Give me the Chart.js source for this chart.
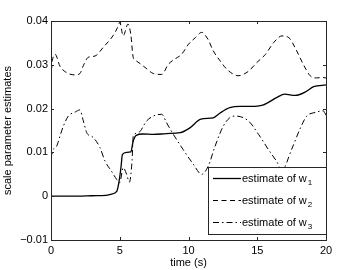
<!DOCTYPE html>
<html>
<head>
<meta charset="utf-8">
<script src="https://cdn.jsdelivr.net/npm/chart.js@4"></script>
<style>
  body { margin: 0; background: #fff; }
  #wrap { width: 360px; height: 270px; }
</style>
</head>
<body>
<div id="wrap"><canvas id="chart" width="360" height="270"></canvas></div>
<script>
// estimate of w1 (solid)
let t1 = [0, 1, 2, 3, 4, 4.4, 4.78, 4.95, 5.1, 5.19, 5.5, 5.8, 5.98, 6.2, 6.7, 7.44, 8.4, 9.4, 10.1, 10.9, 11.8, 12.3, 13.0, 13.75, 14.5, 15.4, 16.4, 17.0, 17.75, 18.5, 19.1, 20];
let w1 = [0, 0, 0, 0.0001, 0.0002, 0.0005, 0.0011, 0.0034, 0.0069, 0.0095, 0.0100, 0.0101, 0.0126, 0.0139, 0.0142, 0.0141, 0.0143, 0.0145, 0.0156, 0.0176, 0.0179, 0.0190, 0.0202, 0.0205, 0.0205, 0.0208, 0.0225, 0.0233, 0.0230, 0.0238, 0.0250, 0.0254];

// estimate of w2 (dashed)
let t2 = [0, 0.03, 0.1, 0.3, 0.65, 1.14, 1.75, 2.1, 2.35, 2.7, 3.2, 3.8, 4.5, 4.9, 5.0, 5.25, 5.6, 5.8, 5.98, 6.2, 6.84, 7.45, 8.05, 8.53, 9.0, 9.5, 10.0, 10.5, 10.96, 11.4, 11.8, 12.3, 12.78, 13.3, 13.6, 14.35, 14.96, 15.6, 16.2, 16.8, 17.3, 17.8, 18.4, 18.85, 19.3, 19.7, 20];
let w2 = [0.037, 0.029, 0.031, 0.0324, 0.0297, 0.0282, 0.0277, 0.0280, 0.0298, 0.0317, 0.0320, 0.0340, 0.0366, 0.0389, 0.0397, 0.0366, 0.0393, 0.0370, 0.0317, 0.0309, 0.0294, 0.0280, 0.0278, 0.0301, 0.0313, 0.0324, 0.0347, 0.0362, 0.0374, 0.0359, 0.0332, 0.0309, 0.0290, 0.0278, 0.0275, 0.0285, 0.0305, 0.0324, 0.0351, 0.0366, 0.0362, 0.0336, 0.0298, 0.0275, 0.0270, 0.0271, 0.0270];

// estimate of w3 (dash-dot)
let t3 = [0, 0.04, 0.17, 0.41, 0.65, 0.9, 1.26, 1.75, 2.1, 2.35, 2.6, 3.07, 3.56, 3.93, 4.4, 4.78, 5.0, 5.25, 5.5, 5.7, 5.9, 5.98, 6.35, 6.96, 7.44, 8.05, 8.4, 8.9, 9.6, 10.35, 10.96, 11.44, 11.93, 12.53, 13.0, 13.4, 14.35, 15.1, 15.8, 16.4, 16.8, 17.5, 18.1, 18.6, 19.2, 19.8, 20];
let w3 = [0.0165, 0.0095, 0.0107, 0.0114, 0.0137, 0.0160, 0.0183, 0.0192, 0.0197, 0.0172, 0.0145, 0.0134, 0.0111, 0.0080, 0.0057, 0.0038, 0.0031, 0.0065, 0.0050, 0.0032, 0.0084, 0.0137, 0.0145, 0.0172, 0.0183, 0.0187, 0.0168, 0.0141, 0.0107, 0.0073, 0.0050, 0.0069, 0.0114, 0.0160, 0.0179, 0.0183, 0.0172, 0.0141, 0.0107, 0.0080, 0.0060, 0.0107, 0.0153, 0.0183, 0.0191, 0.0195, 0.0185];

let legendNames = ["estimate of w", "estimate of w", "estimate of w"];
let legendSubs = ["1", "2", "3"];
let xTicks = [0, 5, 10, 15, 20];
let yTicks = [-0.01, 0, 0.01, 0.02, 0.03, 0.04];

const FONT = "Liberation Sans, Arial, Helvetica, sans-serif";
const dashes = [[], [5, 3.5], [6, 3, 1.5, 3]];

function pts(t, v) {
  return t.map((x, i) => ({ x: x, y: v[i] }));
}

// box, inward ticks and legend, like matlab axes
const axesBox = {
  id: "axesBox",
  afterDraw(chart) {
    let ctx = chart.ctx;
    let a = chart.chartArea;
    let xs = chart.scales.x, ys = chart.scales.y;
    ctx.save();
    ctx.strokeStyle = "#262626";
    ctx.lineWidth = 1;
    ctx.beginPath();
    xTicks.forEach(v => {
      let px = Math.round(xs.getPixelForValue(v)) + 0.5;
      ctx.moveTo(px, a.bottom); ctx.lineTo(px, a.bottom - 3);
      ctx.moveTo(px, a.top); ctx.lineTo(px, a.top + 3);
    });
    yTicks.forEach(v => {
      let py = Math.round(ys.getPixelForValue(v)) + 0.5;
      ctx.moveTo(a.left, py); ctx.lineTo(a.left + 3, py);
      ctx.moveTo(a.right, py); ctx.lineTo(a.right - 3, py);
    });
    ctx.stroke();
    ctx.strokeRect(Math.round(a.left) + 0.5, Math.round(a.top) + 0.5, Math.round(a.right - a.left), Math.round(a.bottom - a.top));

    // legend
    let lx = 208.5, ly = 167.5, lw = 118, lh = 67;
    ctx.fillStyle = "#fff";
    ctx.fillRect(lx, ly, lw, lh);
    ctx.strokeRect(lx, ly, lw, lh);
    ctx.fillStyle = "#000";
    ctx.textBaseline = "middle";
    legendNames.forEach((name, i) => {
      let cy = ly + 11 + i * 22;
      ctx.beginPath();
      ctx.setLineDash(dashes[i]);
      ctx.lineWidth = i == 0 ? 1.3 : 1;
      ctx.strokeStyle = "#000";
      ctx.moveTo(213, cy); ctx.lineTo(241, cy);
      ctx.stroke();
      ctx.setLineDash([]);
      ctx.font = "11px " + FONT;
      ctx.fillText(name, 242, cy);
      let w = ctx.measureText(name).width;
      ctx.font = "8px " + FONT;
      ctx.fillText(legendSubs[i], 242 + w + 1, cy + 4);
    });
    ctx.restore();
  }
};

let ctx = document.getElementById("chart").getContext("2d");
let chart = new Chart(ctx, {
  type: "line",
  data: {
    datasets: [
      { label: "w1", data: pts(t1, w1), borderColor: "#000", borderWidth: 1.3, borderDash: dashes[0] },
      { label: "w2", data: pts(t2, w2), borderColor: "#000", borderWidth: 1, borderDash: dashes[1] },
      { label: "w3", data: pts(t3, w3), borderColor: "#000", borderWidth: 1, borderDash: dashes[2] }
    ]
  },
  options: {
    responsive: false,
    animation: false,
    events: [],
    layout: { padding: { top: 21, right: 34, left: 0, bottom: 0 } },
    elements: {
      point: { radius: 0 },
      line: { cubicInterpolationMode: "monotone", fill: false }
    },
    plugins: { legend: { display: false }, tooltip: { enabled: false } },
    scales: {
      x: {
        type: "linear", min: 0, max: 20,
        afterBuildTicks: s => { s.ticks = xTicks.map(v => ({ value: v })); },
        afterFit: s => { s.height = 30; },
        grid: { display: false, drawTicks: false },
        border: { display: false },
        ticks: { color: "#000", padding: 4, font: { family: FONT, size: 11 }, maxRotation: 0 },
        title: { display: true, text: "time (s)", color: "#000", padding: { top: 0, bottom: 0 }, font: { family: FONT, size: 11 } }
      },
      y: {
        type: "linear", min: -0.01, max: 0.04,
        afterBuildTicks: s => { s.ticks = yTicks.map(v => ({ value: v })); },
        afterFit: s => { s.width = 51; },
        grid: { display: false, drawTicks: false },
        border: { display: false },
        ticks: {
          color: "#000", padding: 3, font: { family: FONT, size: 11 },
          callback: v => {
            let r = Math.round(v * 100) / 100;
            return r < 0 ? "\u2212" + String(-r) : String(r);
          }
        },
        title: { display: true, text: "scale parameter estimates", color: "#000", padding: { top: 1, bottom: 0 }, font: { family: FONT, size: 11 } }
      }
    }
  },
  plugins: [axesBox]
});
</script>
</body>
</html>
